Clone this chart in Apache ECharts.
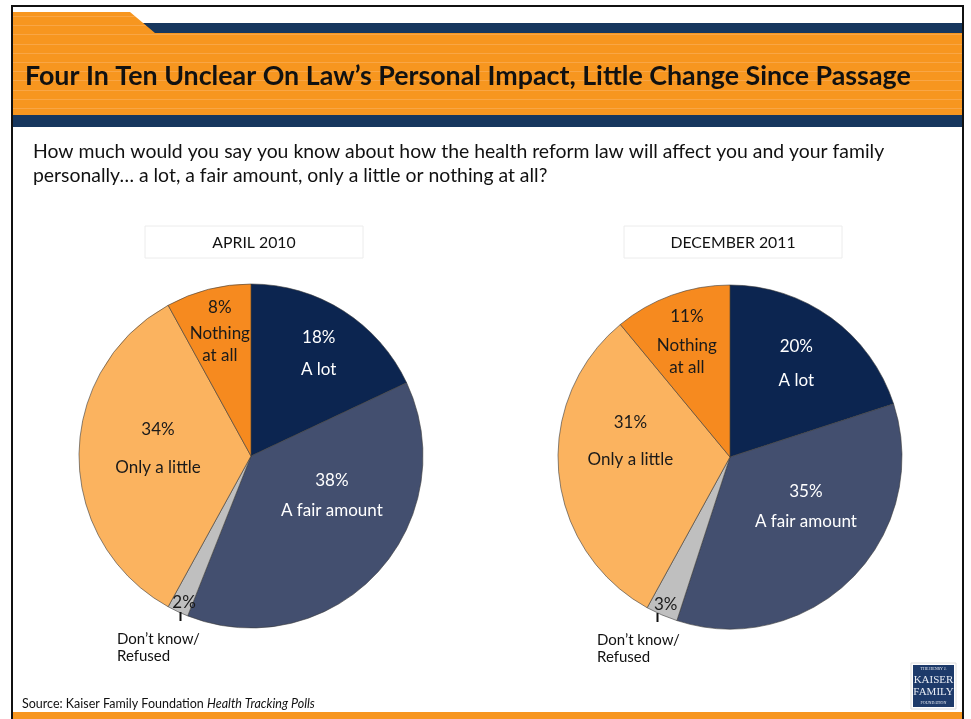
<!DOCTYPE html>
<html>
<head>
<meta charset="utf-8">
<script src="https://cdn.jsdelivr.net/npm/echarts@6/dist/echarts.min.js"></script>
<style>
  html, body { margin: 0; padding: 0; background: #ffffff; }
  #chart { width: 971px; height: 719px; }
</style>
</head>
<body>
<div id="chart"></div>
<script>
// Survey answers, shares in percent, in clockwise order from 12 o'clock
const categories = ['A lot', 'A fair amount', 'Don\u2019t know/Refused', 'Only a little', 'Nothing at all'];
const april2010 = [18, 38, 2, 34, 8];
const december2011 = [20, 35, 3, 31, 11];
const pollTitles = ['APRIL 2010', 'DECEMBER 2011'];

// In-slice label wording (the don't-know slice only shows its share)
const sliceNames = ['A lot', 'A fair amount', '', 'Only a little', 'Nothing\nat all'];

// Styling
const sliceColors = ['#0c2550', '#434f6f', '#bfbfbf', '#fbb35f', '#f68a1f'];
const labelColors = ['#ffffff', '#ffffff', '#1a1a1a', '#1a1a1a', '#1a1a1a'];
const FONT = 'Lato, "Open Sans", sans-serif';
const ORANGE = '#f7961f';
const STRIPE = '#f9ac55';
const NAVY = '#17375e';

// Label nudges from the default inside anchor, per pie and slice
const labelShift = [
  [[20, -32], [16, -25], [-29, 66], [-4, -15], [-9, -40]],
  [[14, -27], [13, -17], [-29, 66], [-11, -32], [-13, -35]]
];
// Gap between the percent line and the first name line
const pctGap = [
  [32, 30, 0, 38, 26],
  [34, 30, 0, 37, 29]
];

const pieCenters = [[251, 456], [730, 457]];
const pieRadius = 172;

function makePie(idx, values) {
  return {
    type: 'pie',
    center: pieCenters[idx],
    radius: pieRadius,
    startAngle: 90,
    clockwise: true,
    animation: false,
    silent: true,
    avoidLabelOverlap: false,
    itemStyle: { borderColor: '#3a3a3a', borderWidth: 0.6 },
    emphasis: { disabled: true },
    labelLine: { show: false },
    data: values.map((v, i) => {
      const nameLh = 22;
      const pctLh = Math.max(2 * pctGap[idx][i] - nameLh, 18);
      const hasName = sliceNames[i] !== '';
      return {
        name: categories[i],
        value: v,
        itemStyle: { color: sliceColors[i] },
        label: {
          show: true,
          position: 'inside',
          formatter: hasName
            ? '{p|' + v + '%}\n' + sliceNames[i].split('\n').map(s => '{n|' + s + '}').join('\n')
            : '{p|' + v + '%}',
          rich: {
            p: { fontFamily: FONT, fontSize: 17, color: labelColors[i], lineHeight: hasName ? pctLh : 18 },
            n: { fontFamily: FONT, fontSize: 17, color: labelColors[i], lineHeight: nameLh }
          }
        }
      };
    }),
    labelLayout: function (p) {
      const s = labelShift[idx][p.dataIndex];
      return { dx: s[0], dy: s[1] };
    }
  };
}

// Header decoration: orange tab and band with faint stripes, navy rules
const graphics = [];
graphics.push({
  type: 'rect', z: 0, silent: true,
  shape: { x: 140, y: 23, width: 823, height: 11 },
  style: { fill: NAVY }
});
graphics.push({
  type: 'polygon', z: 1, silent: true,
  shape: { points: [[13, 12], [130, 12], [155, 33], [963, 33], [963, 115], [13, 115]] },
  style: { fill: ORANGE }
});
for (let y = 16; y < 115; y += 9.2) {
  let x2 = 963;
  if (y < 33) x2 = 130 + (y - 12) * 25 / 21;
  graphics.push({
    type: 'line', z: 2, silent: true,
    shape: { x1: 13, y1: Math.round(y) + 0.5, x2: x2, y2: Math.round(y) + 0.5 },
    style: { stroke: STRIPE, lineWidth: 1, opacity: 0.7 }
  });
}
graphics.push({
  type: 'rect', z: 2, silent: true,
  shape: { x: 13, y: 115, width: 950, height: 12 },
  style: { fill: NAVY }
});
// Bottom orange rule
graphics.push({
  type: 'rect', z: 2, silent: true,
  shape: { x: 13, y: 712, width: 950, height: 8 },
  style: { fill: ORANGE }
});
// Outer frame
graphics.push({
  type: 'rect', z: 3, silent: true,
  shape: { x: 12, y: 6, width: 951, height: 730 },
  style: { fill: 'none', stroke: '#111111', lineWidth: 2 }
});
// Headline
graphics.push({
  type: 'text', z: 4, silent: true,
  style: {
    x: 25, y: 76, text: 'Four In Ten Unclear On Law\u2019s Personal Impact, Little Change Since Passage',
    fontFamily: FONT, fontWeight: 'bold', fontSize: 26.8, fill: '#111111', verticalAlign: 'middle'
  }
});
// Question wording
graphics.push({
  type: 'text', z: 4, silent: true,
  style: {
    x: 33, y: 140,
    text: 'How much would you say you know about how the health reform law will affect you and your family\npersonally\u2026 a lot, a fair amount, only a little or nothing at all?',
    fontFamily: FONT, fontSize: 19.4, lineHeight: 24, fill: '#111111', verticalAlign: 'top'
  }
});
// Poll date boxes
pollTitles.forEach((t, i) => {
  const cx = pieCenters[i][0] + 3;
  graphics.push({
    type: 'rect', z: 4, silent: true,
    shape: { x: cx - 109, y: 226, width: 218, height: 32 },
    style: { fill: '#ffffff', stroke: '#ececec', lineWidth: 1 }
  });
  graphics.push({
    type: 'text', z: 5, silent: true,
    style: {
      x: cx, y: 243, text: t, fontFamily: FONT, fontSize: 15.8, fill: '#111111',
      align: 'center', verticalAlign: 'middle'
    }
  });
});
// Don't know / Refused callouts under each pie
pieCenters.forEach((c, i) => {
  const tickX = c[0] - (i === 0 ? 71 : 73) + 0.5;
  graphics.push({
    type: 'line', z: 5, silent: true,
    shape: { x1: tickX, y1: c[1] + 156, x2: tickX, y2: c[1] + 165 },
    style: { stroke: '#111111', lineWidth: 2 }
  });
  graphics.push({
    type: 'text', z: 5, silent: true,
    style: {
      x: c[0] - (i === 0 ? 134 : 133), y: c[1] + 175,
      text: 'Don\u2019t know/\nRefused', fontFamily: FONT, fontSize: 15, lineHeight: 17,
      fill: '#111111', verticalAlign: 'top'
    }
  });
});
// Source line
graphics.push({
  type: 'text', z: 5, silent: true,
  style: {
    x: 22, y: 704, verticalAlign: 'middle',
    text: '{r|Source: Kaiser Family Foundation }{i|Health Tracking Polls}',
    rich: {
      r: { fontFamily: FONT, fontSize: 12.5, fill: '#111111' },
      i: { fontFamily: FONT, fontSize: 12.5, fontStyle: 'italic', fill: '#111111' }
    }
  }
});
// Foundation mark
graphics.push({
  type: 'rect', z: 5, silent: true,
  shape: { x: 911, y: 663, width: 45, height: 46 },
  style: { fill: '#ffffff', stroke: '#dddddd', lineWidth: 1 }
});
graphics.push({
  type: 'rect', z: 6, silent: true,
  shape: { x: 913, y: 665, width: 41, height: 42 },
  style: { fill: '#1d3a6a' }
});
const markLines = [
  ['THE HENRY J.', 4, 669],
  ['KAISER', 11, 680],
  ['FAMILY', 11, 692],
  ['FOUNDATION', 4, 703]
];
markLines.forEach(m => {
  graphics.push({
    type: 'text', z: 7, silent: true,
    style: {
      x: 933.5, y: m[2], text: m[0], fontFamily: '"Liberation Serif", serif', fontSize: m[1],
      fill: '#e8ecf4', align: 'center', verticalAlign: 'middle'
    }
  });
});

const chart = echarts.init(document.getElementById('chart'), null, { renderer: 'canvas' });
chart.setOption({
  backgroundColor: '#ffffff',
  animation: false,
  graphic: graphics,
  series: [makePie(0, april2010), makePie(1, december2011)]
});
</script>
</body>
</html>
